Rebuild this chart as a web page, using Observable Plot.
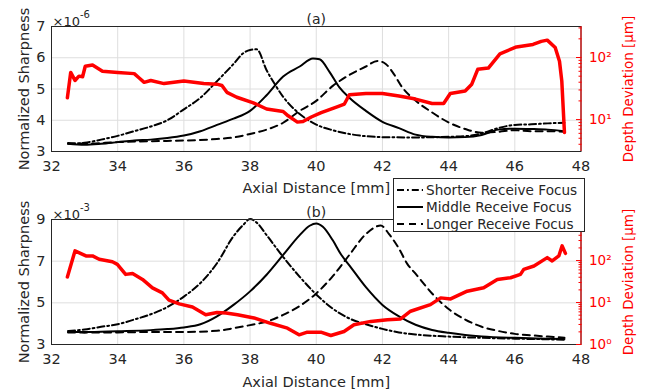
<!DOCTYPE html>
<html><head><meta charset="utf-8">
<script src="https://cdn.jsdelivr.net/npm/d3@7"></script>
<script src="https://cdn.jsdelivr.net/npm/@observablehq/plot@0.6"></script>
<style>
body{margin:0;background:#fff;}
#chart{position:relative;width:655px;height:392px;font-family:"DejaVu Sans",sans-serif;background:#fff;overflow:hidden;}
#chart svg{position:absolute;left:0;}
</style></head><body><div id="chart"></div>
<script>
// ---------- shared ----------
const xDomain = [32, 48];
const xTicks = [32, 34, 36, 38, 40, 42, 44, 46, 48];
const seriesNames = ["Shorter Receive Focus", "Middle Receive Focus", "Longer Receive Focus"];
const xLabel = "Axial Distance [mm]";
const yLabel = "Normalized Sharpness";
const rLabel = "Depth Deviation [μm]";

// ---------- panel (a) ----------
const aTitle = "(a)";
const aExponent = "-6";
const aYDomain = [3, 7];
const aYTicks = [3, 4, 5, 6, 7];
const aShorterX = [32.5,33,33.5,34,34.5,35,35.5,36,36.5,37,37.5,37.8,38,38.2,38.5,38.75,39,39.5,40,40.5,41,41.5,42,43,44,44.5,45,45.5,46,46.5,47,47.5];
const aShorterY = [3.25,3.28,3.38,3.5,3.65,3.8,4.0,4.35,4.72,5.25,5.8,6.15,6.25,6.27,5.6,5.15,4.75,4.2,3.86,3.68,3.56,3.49,3.46,3.45,3.47,3.49,3.58,3.75,3.85,3.87,3.9,3.92];
const aMiddleX = [32.5,33,33.5,34,34.5,35,35.5,36,36.5,37,37.5,38,38.5,39,39.5,39.9,40.1,40.4,40.7,41,41.5,42,42.5,43,43.5,44,44.5,45,45.5,46,46.5,47,47.5];
const aMiddleY = [3.25,3.22,3.25,3.3,3.35,3.38,3.43,3.51,3.65,3.85,4.05,4.3,4.8,5.4,5.72,5.98,5.95,5.55,5.05,4.72,4.3,3.95,3.75,3.54,3.47,3.45,3.46,3.53,3.7,3.73,3.72,3.7,3.65];
const aLongerX = [32.5,33,34,35,36,37,37.5,38,38.5,39,39.5,40,40.5,41,41.5,41.85,42.1,42.3,42.6,43,43.5,44,44.5,45,45.5,46,46.5,47,47.5];
const aLongerY = [3.27,3.25,3.3,3.33,3.35,3.4,3.45,3.56,3.7,3.92,4.3,4.62,5.1,5.45,5.72,5.9,5.8,5.55,5.05,4.63,4.25,3.93,3.72,3.6,3.63,3.68,3.65,3.65,3.63];
const aDepthDomain = [3.06, 316];
const aDepthTicks = [10, 100];
const aDepthMinor = [4,5,6,7,8,9,20,30,40,50,60,70,80,90,200,300];
const aDepthX = [32.48,32.58,32.71,32.83,32.94,33.02,33.24,33.54,34.0,34.5,34.65,34.8,35.0,35.4,36.0,36.6,37.0,37.15,37.3,37.6,38.1,38.5,39.0,39.15,39.43,39.6,39.85,40.15,40.65,40.85,41.0,41.5,42.0,42.5,43.0,43.5,43.85,44.05,44.5,44.7,44.88,45.2,45.55,46.05,46.55,46.8,46.98,47.22,47.35,47.42,47.5];
const aDepthY = [22.4,57.5,42.7,50.1,49.0,72.4,75.9,60.3,57.5,55.0,46.8,39.8,42.7,38.0,41.7,38.0,37.2,35.5,27.5,22.9,18.6,14.8,13.5,11.5,9.1,9.3,11.0,12.9,16.2,17.8,25.1,26.3,26.3,24.0,21.4,18.2,18.2,26.3,28.8,37.2,64.6,67.6,114.8,147.9,162.2,182.0,190.5,144.5,87.1,41.7,6.2];

// ---------- panel (b) ----------
const bTitle = "(b)";
const bExponent = "-3";
const bYDomain = [3, 9];
const bYTicks = [3, 5, 7, 9];
const bShorterX = [32.5,33,33.5,34,34.5,35,35.5,36,36.5,37,37.5,37.8,38,38.2,38.5,39,39.5,40,40.5,41,41.5,42,42.5,43,44,45,46,47,47.5];
const bShorterY = [3.65,3.72,3.85,3.97,4.2,4.45,4.8,5.3,5.95,6.9,8.2,8.75,9.02,8.85,8.25,7.2,6.25,5.4,4.72,4.25,3.97,3.75,3.58,3.48,3.38,3.32,3.28,3.25,3.23];
const bMiddleX = [32.5,33,34,35,35.5,36,36.5,37,37.5,38,38.5,39,39.5,39.8,40,40.2,40.5,40.75,41,41.5,42,42.5,43,43.5,44,44.5,45,46,47,47.5];
const bMiddleY = [3.6,3.6,3.64,3.69,3.74,3.82,3.97,4.35,4.9,5.55,6.35,7.3,8.25,8.7,8.81,8.65,8.0,7.32,6.8,5.75,4.9,4.35,3.95,3.7,3.56,3.46,3.39,3.32,3.28,3.26];
const bLongerX = [32.5,33,34,35,36,37,37.5,38,38.5,39,39.5,40,40.5,41,41.5,41.95,42.2,42.5,42.75,43,43.5,44,44.5,45,45.5,46,46.5,47,47.5];
const bLongerY = [3.58,3.57,3.58,3.6,3.6,3.66,3.78,3.93,4.1,4.42,4.85,5.45,6.28,7.3,8.3,8.71,8.3,7.6,6.87,6.4,5.45,4.7,4.2,3.85,3.65,3.51,3.44,3.38,3.33];
const bDepthDomain = [1, 950];
const bDepthTicks = [1, 10, 100];
const bDepthMinor = [2,3,4,5,6,7,8,9,20,30,40,50,60,70,80,90,200,300,400,500,600,700,800,900];
const bDepthX = [32.48,32.71,33.04,33.24,33.44,33.84,33.99,34.24,34.45,34.75,35.05,35.35,35.55,35.86,36.26,36.66,37.0,37.27,37.62,38.12,38.62,39.13,39.48,39.73,40.14,40.44,40.84,41.14,41.65,42.15,42.55,42.85,43.45,43.76,44.06,44.56,45.06,45.47,45.87,46.17,46.27,46.58,46.98,47.13,47.33,47.43,47.53];
const bDepthY = [40.7,169.8,128.8,128.8,107.2,93.3,81.3,46.8,49.0,35.5,22.4,17.0,11.4,9.3,7.8,5.1,5.8,5.6,5.1,4.3,3.2,2.45,1.7,1.97,1.97,1.64,2.04,2.95,3.55,3.9,4.07,6.2,8.9,12.9,12.2,18.6,22.4,35.5,38.9,46.8,61.7,74.1,117.5,97.7,128.8,223.9,147.9];

// ---------- styles ----------
const FONT = "DejaVu Sans";
const INK = "#262626";
const RED = "#ff0000";
const GRID = "#dedede";
const dashes = [ "7,3,1.8,3", null, "7,5" ];

const rows = (xs, ys) => xs.map((x, i) => ({x, y: ys[i]}));
const sup = {"0":"⁰","1":"¹","2":"²","3":"³","4":"⁴","5":"⁵","6":"⁶","7":"⁷","8":"⁸","9":"⁹"};
const powFmt = d => "10" + String(Math.round(Math.log10(d))).split("").map(c => sup[c]).join("");
const numFmt = d => String(d);

const chart = document.getElementById("chart");

function panel(cfg) {
  const common = {
    width: 655, height: cfg.height,
    marginLeft: 51, marginRight: 74.5, marginTop: cfg.mt, marginBottom: cfg.mb
  };
  const curves = [
    rows(cfg.sx, cfg.sy), rows(cfg.mx, cfg.my), rows(cfg.lx, cfg.ly)
  ];
  const black = Plot.plot({
    ...common,
    style: {fontFamily: FONT, fontSize: "14.5px", color: INK, background: "transparent", overflow: "visible"},
    x: {domain: xDomain},
    y: {domain: cfg.yDomain},
    marks: [
      Plot.gridX(xTicks, {stroke: GRID, strokeOpacity: 1}),
      Plot.gridY(cfg.yTicks, {stroke: GRID, strokeOpacity: 1}),
      ...curves.map((c, i) => Plot.line(c, {x: "x", y: "y", stroke: "#000", strokeWidth: 2, strokeDasharray: dashes[i], curve: "monotone-x"})),
      Plot.frame({stroke: INK}),
      Plot.axisX({ticks: xTicks, tickSize: 0, tickPadding: 9, tickFormat: numFmt, fontSize: 14.5, label: xLabel, labelAnchor: "center", labelArrow: "none", labelOffset: cfg.xlo}),
      Plot.axisY({ticks: cfg.yTicks, tickSize: 0, tickPadding: 6, tickFormat: numFmt, fontSize: 14.5, label: yLabel, labelAnchor: "center", labelArrow: "none", labelOffset: 33}),
      Plot.text([cfg.title], {text: d => d, frameAnchor: "top", dy: -12, fontSize: 14}),
      Plot.text(["×10"], {text: d => d, frameAnchor: "top-left", textAnchor: "start", dx: 1, dy: -10, fontSize: 13}),
      Plot.text([cfg.expo], {text: d => d, frameAnchor: "top-left", textAnchor: "start", dx: 28.5, dy: -16, fontSize: 10})
    ]
  });
  const red = Plot.plot({
    ...common,
    style: {fontFamily: FONT, fontSize: "14.5px", color: RED, background: "transparent", overflow: "visible"},
    x: {domain: xDomain, axis: null},
    y: {type: "log", domain: cfg.dDomain},
    marks: [
      Plot.axisY({anchor: "right", ticks: cfg.dMinor, tickSize: -3, fill: "none", label: null}),
      Plot.axisY({anchor: "right", ticks: cfg.dTicks, tickSize: -5.5, tickPadding: 13.5, tickFormat: powFmt, fontSize: 13.5, label: rLabel, labelAnchor: "center", labelArrow: "none", labelOffset: 52}),
      Plot.ruleX([xDomain[1]], {stroke: RED}),
      Plot.line(rows(cfg.dx, cfg.dy), {x: "x", y: "y", stroke: RED, strokeWidth: 3.5})
    ]
  });
  for (const el of [black, red]) {
    el.style.position = "absolute";
    el.style.top = cfg.top + "px";
    chart.appendChild(el);
  }
}

panel({top: 0, height: 196, mt: 26, mb: 45, xlo: 41, title: aTitle, expo: aExponent,
  yDomain: aYDomain, yTicks: aYTicks,
  sx: aShorterX, sy: aShorterY, mx: aMiddleX, my: aMiddleY, lx: aLongerX, ly: aLongerY,
  dDomain: aDepthDomain, dTicks: aDepthTicks, dMinor: aDepthMinor, dx: aDepthX, dy: aDepthY});

panel({top: 196, height: 196, mt: 23, mb: 48, xlo: 42, title: bTitle, expo: bExponent,
  yDomain: bYDomain, yTicks: bYTicks,
  sx: bShorterX, sy: bShorterY, mx: bMiddleX, my: bMiddleY, lx: bLongerX, ly: bLongerY,
  dDomain: bDepthDomain, dTicks: bDepthTicks, dMinor: bDepthMinor, dx: bDepthX, dy: bDepthY});

// ---------- legend ----------
const legend = document.createElement("div");
legend.style.cssText = `position:absolute;left:393px;top:178px;width:192px;height:54px;border:1px solid ${INK};background:#fff;font-family:'${FONT}';font-size:13.6px;color:${INK};padding-top:2px;box-sizing:border-box;z-index:5;`;
seriesNames.forEach((name, i) => {
  const row = document.createElement("div");
  row.style.cssText = "display:flex;align-items:center;height:17px;white-space:nowrap;";
  const svgNS = "http://www.w3.org/2000/svg";
  const s = document.createElementNS(svgNS, "svg");
  s.setAttribute("width", 32); s.setAttribute("height", 16);
  s.style.position = "static"; s.style.flex = "none";
  const ln = document.createElementNS(svgNS, "line");
  ln.setAttribute("x1", 3); ln.setAttribute("x2", 29); ln.setAttribute("y1", 8); ln.setAttribute("y2", 8);
  ln.setAttribute("stroke", "#000"); ln.setAttribute("stroke-width", 2);
  if (dashes[i]) ln.setAttribute("stroke-dasharray", dashes[i]);
  s.appendChild(ln);
  const t = document.createElement("span");
  t.textContent = name;
  row.appendChild(s); row.appendChild(t);
  legend.appendChild(row);
});
chart.appendChild(legend);
</script></body></html>
